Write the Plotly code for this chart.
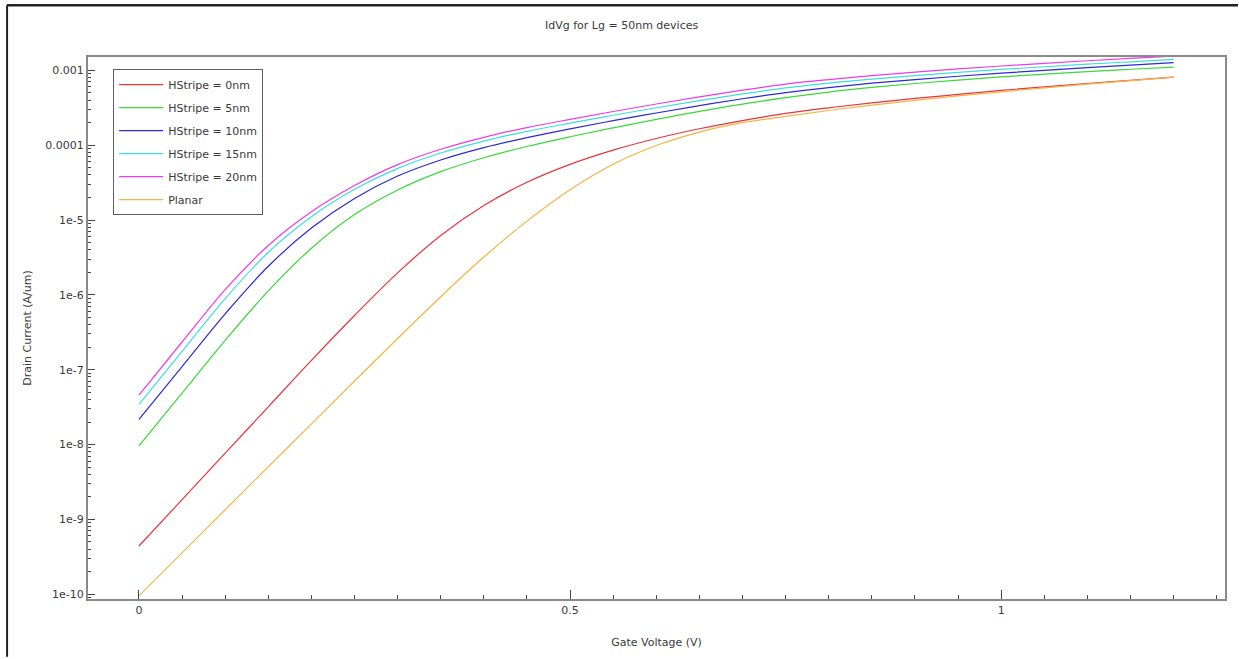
import plotly.graph_objects as go

# Gate voltage (V)
vg = [0.00, 0.05, 0.10, 0.15, 0.20, 0.25, 0.30, 0.35, 0.40, 0.45, 0.50, 0.55,
      0.60, 0.65, 0.70, 0.75, 0.80, 0.85, 0.90, 0.95, 1.00, 1.05, 1.10, 1.15, 1.20]

# Drain current as log10(A/um)
log_id_hs0 = [-9.356, -8.736, -8.116, -7.496, -6.876, -6.276, -5.706, -5.206, -4.806, -4.496, -4.256, -4.066,
              -3.911, -3.781, -3.671, -3.576, -3.501, -3.435, -3.376, -3.322, -3.268, -3.22, -3.176, -3.133, -3.09]
log_id_hs5 = [-8.018, -7.313, -6.608, -5.948, -5.378, -4.928, -4.598, -4.353, -4.168, -4.018, -3.888, -3.768,
              -3.655, -3.548, -3.452, -3.365, -3.29, -3.229, -3.176, -3.13, -3.088, -3.051, -3.017, -2.986, -2.956]
log_id_hs10 = [-7.663, -6.958, -6.253, -5.618, -5.108, -4.713, -4.413, -4.198, -4.033, -3.90, -3.782, -3.673,
               -3.57, -3.472, -3.38, -3.297, -3.23, -3.172, -3.123, -3.079, -3.038, -3.00, -2.964, -2.93, -2.898]
log_id_hs15 = [-7.463, -6.755, -6.05, -5.43, -4.955, -4.59, -4.31, -4.105, -3.945, -3.815, -3.705, -3.60,
               -3.50, -3.405, -3.315, -3.235, -3.171, -3.117, -3.07, -3.027, -2.988, -2.952, -2.918, -2.886, -2.855]
log_id_hs20 = [-7.34, -6.63, -5.93, -5.34, -4.89, -4.54, -4.26, -4.055, -3.895, -3.765, -3.655, -3.55,
               -3.45, -3.355, -3.265, -3.185, -3.124, -3.071, -3.024, -2.981, -2.942, -2.906, -2.872, -2.84, -2.81]
log_id_planar = [-10.022, -9.447, -8.872, -8.297, -7.723, -7.151, -6.583, -6.025, -5.495, -5.015, -4.595, -4.255,
                 -4.005, -3.825, -3.70, -3.615, -3.537, -3.466, -3.401, -3.342, -3.287, -3.235, -3.185, -3.137, -3.09]

series_names = ["HStripe = 0nm", "HStripe = 5nm", "HStripe = 10nm",
                "HStripe = 15nm", "HStripe = 20nm", "Planar"]
series_logs = [log_id_hs0, log_id_hs5, log_id_hs10, log_id_hs15, log_id_hs20, log_id_planar]
series_colors = ["#e8343c", "#3ad83a", "#2a2ad8", "#3ae0e0", "#ec3aec", "#f4b444"]

y_tick_vals = [1e-10, 1e-9, 1e-8, 1e-7, 1e-6, 1e-5, 1e-4, 1e-3]
y_tick_text = ["1e-10", "1e-9", "1e-8", "1e-7", "1e-6", "1e-5", "0.0001", "0.001"]
x_tick_vals = [0, 0.5, 1]
x_tick_text = ["0", "0.5", "1"]

FONT = "DejaVu Sans"
TXT = "#3a3a3a"

fig = go.Figure()
for i, (name, logs, col) in enumerate(zip(series_names, series_logs, series_colors)):
    fig.add_trace(go.Scatter(
        x=vg, y=[10 ** v for v in logs], mode="lines", name=name,
        line=dict(color=col, width=1.2, shape="spline", smoothing=1.0),
        legendgroup=f"g{i}",
    ))

y_minor = [m * 10.0 ** e for e in range(-11, -2) for m in range(2, 10)]
x_minor = [round(0.05 * k, 2) for k in range(1, 26) if k % 10 != 0]

fig.update_layout(
    width=1239, height=659,
    margin=dict(l=88, r=13, t=57, b=58),
    paper_bgcolor="white", plot_bgcolor="white",
    font=dict(family=FONT, size=11, color=TXT),
    title=dict(text="IdVg for Lg = 50nm devices", x=0.5017, xanchor="center",
               y=1 - 25 / 659, yanchor="middle", yref="container",
               font=dict(family=FONT, size=11, color=TXT)),
    showlegend=True,
    legend=dict(x=0.0221, y=0.9775, xanchor="left", yanchor="top",
                bgcolor="white", bordercolor="#606060", borderwidth=1,
                font=dict(family=FONT, size=11, color=TXT),
                tracegroupgap=4, itemwidth=44),
    xaxis=dict(
        range=[-0.0591, 1.2596], showgrid=False, zeroline=False,
        showline=True, linecolor="#8a8a8a", linewidth=2, mirror=True,
        tickmode="array", tickvals=x_tick_vals, ticktext=x_tick_text,
        ticks="inside", ticklen=9, tickwidth=1, tickcolor="#444",
        tickfont=dict(family=FONT, size=11, color=TXT),
        minor=dict(tickmode="array", tickvals=x_minor, ticks="inside",
                   ticklen=4, tickwidth=1, tickcolor="#444", showgrid=False),
        title=dict(text="Gate Voltage (V)", standoff=22,
                   font=dict(family=FONT, size=11, color=TXT)),
    ),
    yaxis=dict(
        type="log", range=[-10.064, -2.822], showgrid=False, zeroline=False,
        showline=True, linecolor="#8a8a8a", linewidth=2, mirror=True,
        tickmode="array", tickvals=y_tick_vals, ticktext=y_tick_text,
        ticks="inside", ticklen=7, tickwidth=1, tickcolor="#444",
        tickfont=dict(family=FONT, size=11, color=TXT),
        minor=dict(tickmode="array", tickvals=y_minor, ticks="inside",
                   ticklen=3, tickwidth=1, tickcolor="#444", showgrid=False),
        title=dict(text="Drain Current (A/um)", standoff=11,
                   font=dict(family=FONT, size=11, color=TXT)),
    ),
)

# outer frame of the picture (top and left dark edges)
fig.add_shape(type="line", xref="paper", yref="paper",
              x0=(7 - 88) / 1138, x1=(1239 - 88) / 1138,
              y0=1 + (57 - 5) / 544, y1=1 + (57 - 5) / 544,
              line=dict(color="#222", width=2.5))
fig.add_shape(type="line", xref="paper", yref="paper",
              x0=(7 - 88) / 1138, x1=(7 - 88) / 1138,
              y0=1 + (57 - 5) / 544, y1=-(659 - 601) / 544,
              line=dict(color="#222", width=2))

fig.write_html("out.html")
